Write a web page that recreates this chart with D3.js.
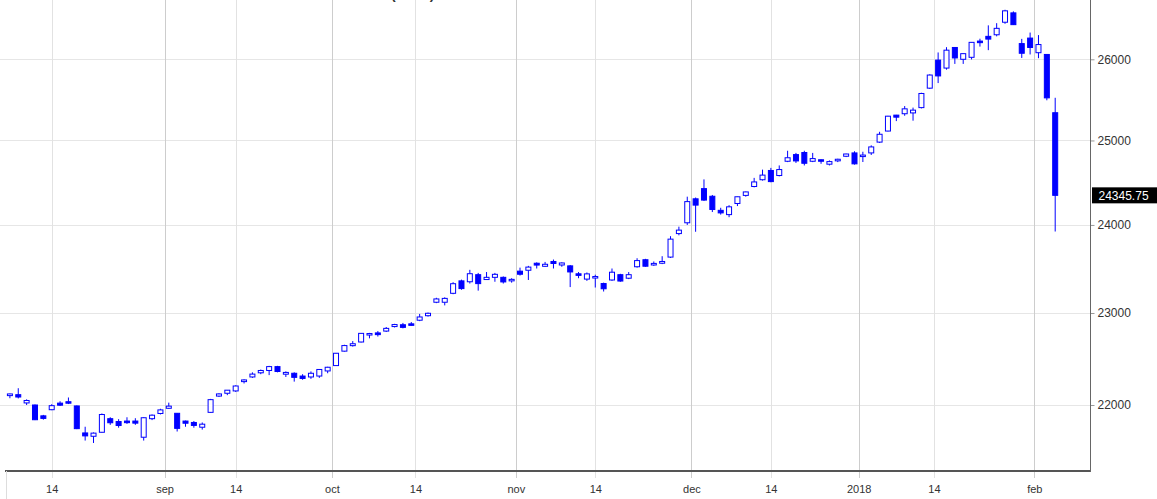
<!DOCTYPE html>
<html>
<head>
<meta charset="utf-8">
<script src="https://cdn.jsdelivr.net/npm/d3@7/dist/d3.min.js"></script>
<style>
html,body{margin:0;padding:0;background:#fff;}
svg{display:block;font-family:"Liberation Sans",Arial,sans-serif;}
</style>
</head>
<body>
<svg id="chart" width="1157" height="499"></svg>
<script>
// ---- data (DJIA daily candles) ----
const dates = ["2017-08-07","2017-08-08","2017-08-09","2017-08-10","2017-08-11","2017-08-14","2017-08-15","2017-08-16","2017-08-17","2017-08-18","2017-08-21","2017-08-22","2017-08-23","2017-08-24","2017-08-25","2017-08-28","2017-08-29","2017-08-30","2017-08-31","2017-09-01","2017-09-05","2017-09-06","2017-09-07","2017-09-08","2017-09-11","2017-09-12","2017-09-13","2017-09-14","2017-09-15","2017-09-18","2017-09-19","2017-09-20","2017-09-21","2017-09-22","2017-09-25","2017-09-26","2017-09-27","2017-09-28","2017-09-29","2017-10-02","2017-10-03","2017-10-04","2017-10-05","2017-10-06","2017-10-09","2017-10-10","2017-10-11","2017-10-12","2017-10-13","2017-10-16","2017-10-17","2017-10-18","2017-10-19","2017-10-20","2017-10-23","2017-10-24","2017-10-25","2017-10-26","2017-10-27","2017-10-30","2017-10-31","2017-11-01","2017-11-02","2017-11-03","2017-11-06","2017-11-07","2017-11-08","2017-11-09","2017-11-10","2017-11-13","2017-11-14","2017-11-15","2017-11-16","2017-11-17","2017-11-20","2017-11-21","2017-11-22","2017-11-24","2017-11-27","2017-11-28","2017-11-29","2017-11-30","2017-12-01","2017-12-04","2017-12-05","2017-12-06","2017-12-07","2017-12-08","2017-12-11","2017-12-12","2017-12-13","2017-12-14","2017-12-15","2017-12-18","2017-12-19","2017-12-20","2017-12-21","2017-12-22","2017-12-26","2017-12-27","2017-12-28","2017-12-29","2018-01-02","2018-01-03","2018-01-04","2018-01-05","2018-01-08","2018-01-09","2018-01-10","2018-01-11","2018-01-12","2018-01-16","2018-01-17","2018-01-18","2018-01-19","2018-01-22","2018-01-23","2018-01-24","2018-01-25","2018-01-26","2018-01-29","2018-01-30","2018-01-31","2018-02-01","2018-02-02","2018-02-05"];

const open  = [22100,22110,22022,22000,21885,21950,22020,22035,21990,21705,21670,21712,21855,21825,21830,21830,21660,21855,21910,21965,21912,21830,21815,21765,21922,22095,22125,22150,22250,22300,22345,22370,22412,22330,22340,22310,22300,22310,22365,22423,22580,22640,22680,22760,22780,22800,22850,22870,22880,22920,22970,23120,23120,23220,23360,23350,23430,23375,23400,23400,23365,23470,23480,23560,23525,23580,23540,23530,23440,23380,23395,23330,23370,23430,23390,23520,23600,23540,23560,23630,23900,24025,24305,24425,24335,24170,24120,24250,24345,24450,24530,24640,24580,24750,24830,24855,24750,24768,24715,24755,24810,24850,24809,24850,24980,25114,25308,25325,25335,25400,25640,25990,25890,26149,26000,26025,26230,26290,26310,26470,26590,26198,26268,26083,26061,25337.39];
const high  = [22121,22179,22060,22005,21895,22008,22040,22080,21995,21770,21710,21910,21870,21850,21870,21860,21870,21900,21960,22025,21915,21835,21830,21815,22065,22125,22160,22210,22275,22350,22380,22420,22420,22360,22350,22330,22360,22385,22410,22560,22650,22690,22777,22780,22800,22845,22880,22890,22900,22990,23005,23170,23175,23345,23374,23485,23450,23460,23450,23410,23390,23510,23530,23570,23575,23602,23570,23540,23460,23455,23430,23340,23500,23440,23460,23617,23610,23580,23640,23870,23980,24330,24320,24534,24350,24200,24230,24330,24390,24552,24650,24671,24700,24876,24850,24876,24850,24772,24760,24780,24840,24870,24864,24941,25105,25299,25311,25419,25400,25583,25812,26086,26153,26153,26072,26215,26260,26430,26458,26630,26609,26258,26338,26306,26061,25520.96];
const low   = [22072,22070,22000,21840,21845,21945,21990,22010,21745,21625,21600,21710,21790,21760,21800,21790,21625,21840,21900,21960,21720,21770,21760,21740,21920,22085,22105,22140,22230,22290,22330,22320,22350,22300,22250,22270,22280,22290,22340,22420,22575,22630,22675,22720,22740,22790,22840,22830,22860,22910,22960,23110,23085,23210,23260,23330,23250,23370,23350,23330,23340,23420,23370,23500,23520,23500,23520,23290,23390,23360,23285,23240,23360,23350,23380,23510,23520,23530,23550,23620,23880,24000,23921,24280,24150,24120,24090,24220,24330,24440,24520,24500,24570,24740,24730,24700,24740,24720,24700,24740,24800,24710,24741,24825,24970,25110,25235,25300,25240,25390,25630,25703,25870,25942,25942,25998,26160,26115,26290,26450,26435,26017,26061,26014,25490,23923.89];
const close = [22118,22085,22048,21844,21858,21993,21998,22024,21750,21674,21703,21899,21812,21783,21813,21808,21865,21892,21948,21988,21753,21807,21784,21797,22057,22118,22158,22203,22268,22331,22370,22412,22359,22349,22296,22284,22340,22381,22405,22557,22641,22661,22775,22773,22761,22830,22872,22841,22871,22956,22997,23157,23163,23328,23273,23441,23329,23400,23434,23348,23377,23435,23516,23539,23548,23557,23563,23461,23422,23439,23409,23271,23458,23358,23430,23590,23526,23558,23580,23836,23940,24272,24231,24290,24180,24140,24211,24329,24386,24504,24585,24508,24651,24792,24754,24726,24782,24754,24746,24774,24837,24719,24824,24922,25075,25295,25283,25385,25369,25574,25803,25792,26115,26017,26071,26214,26210,26255,26392,26616,26439,26076,26149,26186,25520,24345.75];

const yTicks = [22000,23000,24000,25000,26000];
const xTickDates  = ["2017-08-14","2017-09-01","2017-09-14","2017-10-01","2017-10-14","2017-11-01","2017-11-14","2017-12-01","2017-12-14","2018-01-01","2018-01-14","2018-02-01"];
const xTickLabels = ["14","sep","14","oct","14","nov","14","dec","14","2018","14","feb"];
const xTickKinds  = ["day","month","day","month","day","month","day","month","day","month","day","month"];
const title = "Dow Jones Industrials (INDU)";
const lastPrice = 24345.75;

// ---- layout ----
const svg = d3.select("#chart");
const plotRight = 1090.5, axisY = 471;
const n = dates.length;
const x = d3.scaleLinear().domain([0, n - 1]).range([9.9, 1055.2]);
const y = d3.scaleLog().domain([22000, 26000]).range([405, 59.3]);

// tick positions from dates
function tickIndex(ds, kind) {
  let idx = dates.findIndex(d => d >= ds);
  if (idx < 0) idx = n;
  if (kind === "day" && dates[idx] === ds) return idx;
  return idx - 0.5;
}
const xTicks = xTickDates.map((d, i) => ({pos: tickIndex(d, xTickKinds[i]), label: xTickLabels[i], kind: xTickKinds[i]}));

// title (clipped at top, as in the reference)
svg.append("text").attr("x", 434.5).attr("y", -1).attr("text-anchor", "end")
  .attr("font-size", 14).attr("font-weight", "bold").attr("fill", "#333").text(title);

// horizontal grid
svg.append("g").selectAll("line").data(yTicks).join("line")
  .attr("x1", 0).attr("x2", plotRight)
  .attr("y1", d => Math.round(y(d)) + 0.5).attr("y2", d => Math.round(y(d)) + 0.5)
  .attr("stroke", "#e6e6e6").attr("stroke-width", 1);

// vertical grid
svg.append("g").selectAll("line").data(xTicks).join("line")
  .attr("x1", d => Math.round(x(d.pos)) + 0.5).attr("x2", d => Math.round(x(d.pos)) + 0.5)
  .attr("y1", 0).attr("y2", axisY + 7)
  .attr("stroke", d => d.kind === "month" ? "#cdcdcd" : "#e2e2e2").attr("stroke-width", 1);

// bottom axis
const xAxis = d3.axisBottom(x).tickValues(xTicks.map(d => d.pos))
  .tickFormat((d, i) => xTicks[i].label).tickSize(0).tickPadding(14);
const gx = svg.append("g").attr("transform", `translate(0,${axisY})`).call(xAxis);
gx.select(".domain").remove();
gx.selectAll("text").attr("font-size", 11).attr("fill", "#333").attr("font-family", "Liberation Sans, Arial, sans-serif");
svg.append("line").attr("x1", 5).attr("x2", plotRight).attr("y1", axisY).attr("y2", axisY)
  .attr("stroke", "#555").attr("stroke-width", 2);
svg.append("line").attr("x1", 6.5).attr("x2", 6.5).attr("y1", axisY).attr("y2", 499)
  .attr("stroke", "#dddddd");

// right axis
const yAxis = d3.axisRight(y).tickValues(yTicks).tickFormat(d3.format("d")).tickSize(4).tickPadding(3);
const gy = svg.append("g").attr("transform", `translate(${plotRight},0)`).call(yAxis);
gy.select(".domain").remove();
gy.selectAll(".tick line").attr("stroke", "#999");
gy.selectAll("text").attr("font-size", 12).attr("fill", "#333").attr("font-family", "Liberation Sans, Arial, sans-serif");
svg.append("line").attr("x1", plotRight).attr("x2", plotRight).attr("y1", 0).attr("y2", axisY + 1)
  .attr("stroke", "#666").attr("stroke-width", 1);

// candles
const blue = "#0000ff";
const idx = d3.range(n);
const gc = svg.append("g");
gc.selectAll("line.wick").data(idx).join("line").attr("class", "wick")
  .attr("x1", i => x(i)).attr("x2", i => x(i))
  .attr("y1", i => y(high[i])).attr("y2", i => y(low[i]))
  .attr("stroke", blue).attr("stroke-width", 1);
gc.selectAll("rect.body").data(idx).join("rect").attr("class", "body")
  .attr("x", i => x(i) - 2.5).attr("width", 5)
  .attr("y", i => y(Math.max(open[i], close[i])))
  .attr("height", i => Math.max(1.5, Math.abs(y(open[i]) - y(close[i]))))
  .attr("fill", i => close[i] >= open[i] ? "#fff" : blue)
  .attr("stroke", blue).attr("stroke-width", 1);

// last price label
const ly = y(lastPrice);
svg.append("rect").attr("x", plotRight + 1.5).attr("y", ly - 8).attr("width", 65).attr("height", 16).attr("fill", "#000");
svg.append("text").attr("x", plotRight + 8).attr("y", ly + 4.5).attr("font-size", 12).attr("fill", "#fff")
  .text(d3.format(".2f")(lastPrice));
</script>
</body>
</html>
